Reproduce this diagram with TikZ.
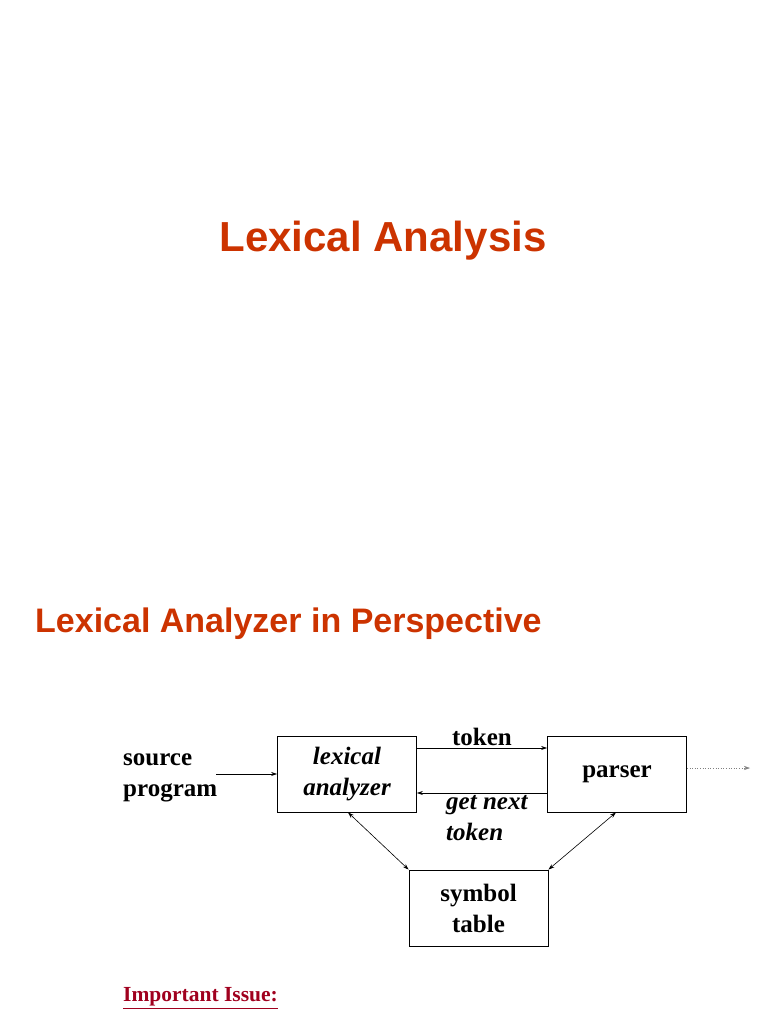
\documentclass[tikz,border=0pt]{standalone}
\usepackage{fontspec}
\setmainfont{Liberation Serif}
\newfontfamily\hsans{Liberation Sans}
\usetikzlibrary{arrows.meta}
\definecolor{ttl}{RGB}{204,51,0}
\definecolor{iss}{RGB}{160,0,30}
\begin{document}
\begin{tikzpicture}[x=1pt,y=-1pt,
  box/.style={draw,line width=0.8pt,minimum width=139pt,minimum height=76pt,inner sep=0pt,align=center,font=\fontsize{25}{31}\selectfont\bfseries},
  lbl/.style={font=\fontsize{25}{31}\selectfont\bfseries,align=left,inner sep=0pt},
  arr/.style={-{Stealth[length=6pt,width=4pt]},line width=0.6pt}]
\useasboundingbox (0,0) rectangle (768,1024);
\node[font=\hsans\fontsize{42}{50}\selectfont\bfseries,text=ttl] (t1) at (383,241) {Lexical Analysis};
\node[font=\hsans\fontsize{34}{40}\selectfont\bfseries,text=ttl,anchor=west,inner sep=0pt] (t2) at (35,624) {Lexical Analyzer in Perspective};
\node[box] (lex) at (347,774) {\itshape lexical\\\itshape analyzer};
\node[box] (par) at (617,774) {parser};
\node[box] (sym) at (478.5,908) {symbol\\table};
\node[lbl,anchor=west] (src) at (123,778) {source\\program};
\coordinate (srcE) at (216,774);
\draw[arr] (srcE) -- (lex.west |- srcE);
\draw[arr] ([yshift=26pt]lex.east) -- ([yshift=26pt]par.west) node[lbl,midway,above=2pt] (tok) {token};
\draw[arr] ([yshift=-19pt]par.west) -- ([yshift=-19pt]lex.east);
\node[lbl,anchor=north west] (gnt) at (446,795) {\itshape get next\\\itshape token};
\coordinate (dotE) at (750,768);
\draw[arr,dotted,line width=0.5pt,gray] (par.east |- dotE) -- (dotE);
\draw[arr,{Stealth[length=6pt,width=4pt]}-{Stealth[length=6pt,width=4pt]}] ([xshift=1pt]lex.south) -- (sym.north west);
\draw[arr,{Stealth[length=6pt,width=4pt]}-{Stealth[length=6pt,width=4pt]}] ([xshift=-1pt]par.south) -- (sym.north east);
\node[font=\fontsize{21.5}{25}\selectfont\bfseries,text=iss,anchor=west,inner sep=0pt] (imp) at (123,998) {\underline{Important Issue:}};
\end{tikzpicture}
\end{document}
